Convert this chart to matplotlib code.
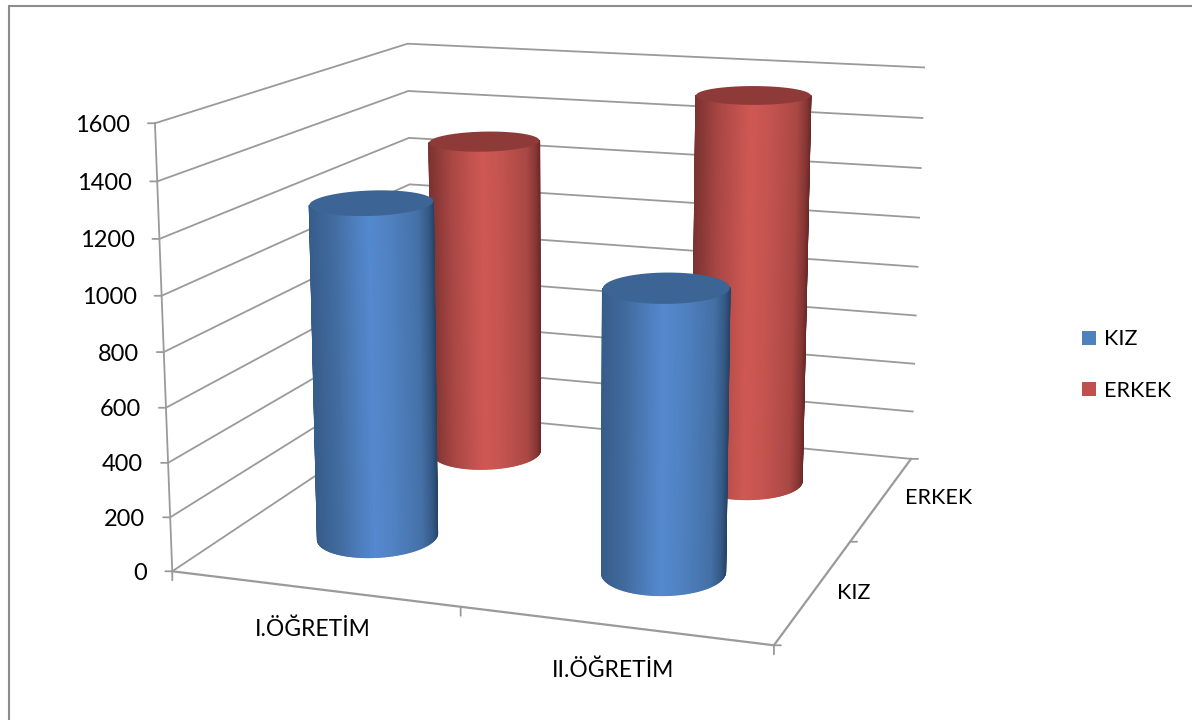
import numpy as np
import matplotlib
matplotlib.use("Agg")
import matplotlib.pyplot as plt
from matplotlib.patches import Patch, Rectangle
from mpl_toolkits.mplot3d import proj3d
from mpl_toolkits.mplot3d.art3d import Poly3DCollection

plt.rcParams["font.family"] = ["Lato", "DejaVu Sans"]

# data
categories = ["I.ÖĞRETİM", "II.ÖĞRETİM"]
series = ["KIZ", "ERKEK"]
kiz = [1250, 1030]
erkek = [1290, 1535]
z_ticks = [0, 200, 400, 600, 800, 1000, 1200, 1400, 1600]

W, H = 1192, 720
GRID = "#9a9a9a"
# side shading across the cylinder: position (-1 left .. 1 right) -> rgb
shade_pos = [-1.0, -0.6, -0.05, 0.25, 0.75, 0.92, 1.0]
blue_side = [(54, 92, 138), (66, 108, 160), (84, 137, 207), (80, 130, 195), (68, 112, 166), (52, 88, 132), (38, 66, 100)]
red_side = [(122, 50, 48), (168, 70, 68), (206, 88, 84), (198, 84, 80), (170, 72, 68), (135, 55, 53), (105, 40, 40)]
blue_top = (60, 100, 148)
red_top = (142, 58, 56)

fig = plt.figure(figsize=(11.92, 7.2), dpi=100)
size, cx, cy = 911.1, 555.2, 318.7
ax = fig.add_axes([(cx - size / 2) / W, (H - cy - size / 2) / H, size / W, size / H],
                  projection="3d", computed_zorder=False)
ax.set_xlim(0, 2)
ax.set_ylim(0, 2)
ax.set_zlim(0, 1600)
ax.view_init(elev=13.385, azim=-70.82, roll=0)
ax.set_proj_type("persp", focal_length=0.507)
ax.set_box_aspect((1.369, 1.38, 1))
ax.set_axis_off()
ax.patch.set_alpha(0)
M = ax.get_proj()


def to2d(x, y, z):
    px, py, _ = proj3d.proj_transform(x, y, z, M)
    return px, py


def tick(x, y, z, dx, dy):
    ax.annotate("", xy=to2d(x, y, z), xytext=(dx, dy), textcoords="offset pixels",
                arrowprops=dict(arrowstyle="-", color=GRID, lw=1.3, shrinkA=0, shrinkB=0), zorder=1)


# walls
for v in z_ticks:
    ax.plot([0, 0, 2], [0, 2, 2], [v, v, v], color=GRID, lw=1.3, zorder=1)
    tick(0, 0, v, -7, 0)
    ax.annotate(str(v), xy=to2d(0, 0, v), xytext=(-25, -2), textcoords="offset pixels",
                ha="right", va="center", fontsize=17, color="black")
ax.plot([0, 0], [0, 0], [0, 1600], color=GRID, lw=1.3, zorder=1)
ax.plot([0, 2, 2], [0, 0, 2], [0, 0, 0], color=GRID, lw=1.6, zorder=1)

for x in [0, 1, 2]:
    tick(x, 0, 0, 0, -9)
for y in [0, 1, 2]:
    tick(2, y, 0, 7, 0)

# axis labels
for i, (name, dy) in enumerate(zip(categories, [-41, -45])):
    ax.annotate(name, xy=to2d(i + 0.5, 0, 0), xytext=(-1, dy), textcoords="offset pixels",
                ha="center", va="center", fontsize=16.5, color="black")
for i, (name, off) in enumerate(zip(series, [(40, -3), (56, 0)])):
    ax.annotate(name, xy=to2d(2, i + 0.5, 0), xytext=off, textcoords="offset pixels",
                ha="center", va="center", fontsize=15.5, color="black")


def cylinder(x0, y0, height, side, top, order, rx=0.197, ry=0.22):
    th = np.linspace(0, 2 * np.pi, 180, endpoint=False)
    rim_x = x0 + rx * np.cos(th)
    rim_y = y0 + ry * np.sin(th)
    # only the arc that faces the camera, from left silhouette to right silhouette
    px, _ = to2d(rim_x, rim_y, np.full(th.shape, height / 2))
    il, ir = int(np.argmin(px)), int(np.argmax(px))
    arc = (il + np.arange((ir - il) % 180 + 1)) % 180
    X = np.vstack([rim_x[arc], rim_x[arc]])
    Y = np.vstack([rim_y[arc], rim_y[arc]])
    Z = np.vstack([np.zeros(len(arc)), np.full(len(arc), height)])
    mid = (px[arc][:-1] + px[arc][1:]) / 2
    s = 2 * (mid - px.min()) / (px.max() - px.min()) - 1
    cols = np.column_stack([np.interp(s, shade_pos, [c[k] for c in side]) for k in range(3)]) / 255
    cols = np.column_stack([cols, np.ones(len(cols))]).reshape(1, len(s), 4)
    ax.plot_surface(X, Y, Z, facecolors=cols, shade=False, rstride=1, cstride=1,
                    linewidth=1.0, antialiased=True, zorder=order)
    rim = list(zip(rim_x, rim_y, np.full(th.shape, height)))
    ax.add_collection3d(Poly3DCollection([rim], facecolor=np.array(top) / 255, edgecolor="none", zorder=order + 0.5))


# back row first, front row over it
cylinder(0.48, 1.57, erkek[0], red_side, red_top, 2)
cylinder(1.495, 1.54, erkek[1], red_side, red_top, 3)
cylinder(0.485, 0.54, kiz[0], blue_side, blue_top, 4)
cylinder(1.50, 0.51, kiz[1], blue_side, blue_top, 5)

handles = [Patch(facecolor="#4f81bd", label=series[0]), Patch(facecolor="#c0504d", label=series[1])]
fig.legend(handles=handles, loc="center left", bbox_to_anchor=(1082 / W, 1 - 365 / H), frameon=False,
           fontsize=15.5, handlelength=0.65, handleheight=0.65, handletextpad=0.37, labelspacing=1.45,
           borderpad=0, borderaxespad=0)

# chart frame, runs off the right and bottom of the picture
fig.add_artist(Rectangle((8.5 / W, -0.1), 1.2, 1.1 - 5.5 / H, transform=fig.transFigure,
                         fill=False, edgecolor="#8c8c8c", lw=1.5))

fig.savefig("out.png", dpi=100)
